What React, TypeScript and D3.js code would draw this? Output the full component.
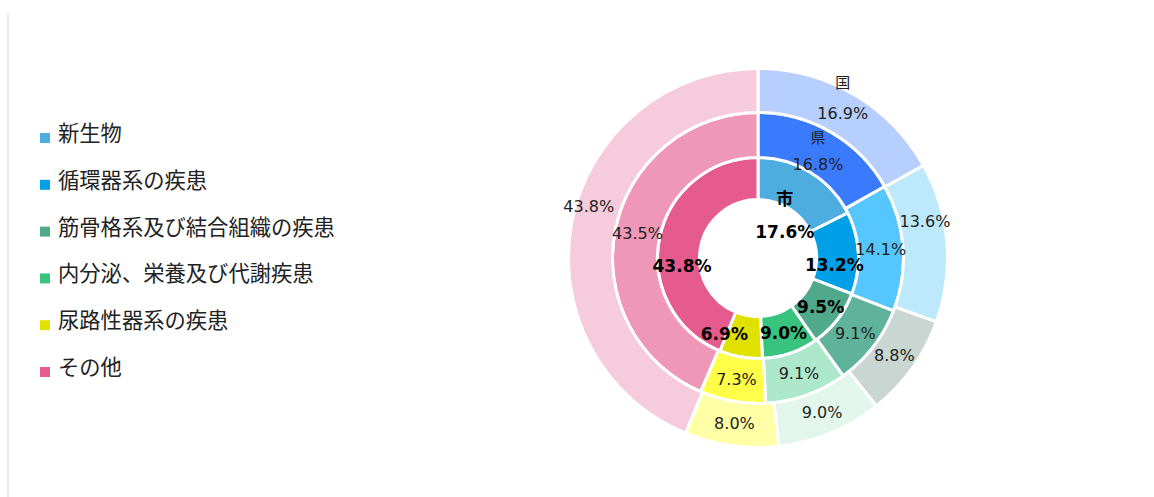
import React from "react";
import * as d3 from "d3";

const categories = ["新生物", "循環器系の疾患", "筋骨格系及び結合組織の疾患", "内分泌、栄養及び代謝疾患", "尿路性器系の疾患", "その他"];
const ringNames = ["市", "県", "国"];
const cityValues = [17.6, 13.2, 9.5, 9.0, 6.9, 43.8];
const prefValues = [16.8, 14.1, 9.1, 9.1, 7.3, 43.5];
const nationValues = [16.9, 13.6, 8.8, 9.0, 8.0, 43.8];

const cityColors = ["#4eaddf", "#00a0e9", "#4fa98a", "#38c47e", "#e1e100", "#e55b8e"];
const prefColors = ["#3a7bfd", "#55c6fe", "#5fb39a", "#aee8cc", "#ffff4a", "#ef97b7"];
const nationColors = ["#b7cfff", "#bde9fd", "#c9d6d1", "#e3f6ec", "#ffffa6", "#f6cbdc"];

// label nudges (layout only) to mimic overlap avoidance of the original
const nudges = [
  [[-15, 42], [-3, 11], [0, 0], [0, 0], [-20, -2], [2, 23]],
  [[-2, 13], [0, 0], [0, 0], [0, 0], [0, 0], [0, 0]],
  [[0, 0], [0, -23], [0, 0], [0, 0], [0, 0], [-5, -19]],
];
const nameGap = [35, 28, 32];

const W = 1154, H = 497;
const cx = 758, cy = 258;
const font = "'DejaVu Sans', 'Noto Sans CJK JP', sans-serif";

export default function App() {
  const rings = [
    { values: cityValues, colors: cityColors, r0: 58.5, r1: 100.5, bold: true },
    { values: prefValues, colors: prefColors, r0: 100.5, r1: 145.5, bold: false },
    { values: nationValues, colors: nationColors, r0: 145.5, r1: 189.5, bold: false },
  ];
  const pie = d3.pie<number>().sort(null).value((d) => d);

  return (
    <svg width={W} height={H} style={{ position: "absolute", left: 0, top: 0 }} fontFamily={font}>
      <rect x={7} y={13} width={2} height={H - 13} fill="#e8e8e8" />
      {categories.map((c, i) => {
        const y = 141 + i * 46.8;
        return (
          <g key={c}>
            <rect x={40} y={y - 8} width={10} height={10} fill={cityColors[i]} />
            <text x={58} y={y} fontSize={21.3} fill="#222" fontFamily="'Noto Sans CJK JP', sans-serif">{c}</text>
          </g>
        );
      })}
      <g transform={`translate(${cx},${cy})`}>
        {rings.map((ring, ri) => {
          const arcs = pie(ring.values);
          const arc = d3.arc<d3.PieArcDatum<number>>().innerRadius(ring.r0).outerRadius(ring.r1);
          return (
            <g key={ri}>
              {arcs.map((a, i) => (
                <path key={i} d={arc(a) || ""} fill={ring.colors[i]} stroke="#fff" strokeWidth={3} />
              ))}
            </g>
          );
        })}
        {rings.map((ring, ri) => {
          const arcs = pie(ring.values);
          const lr = (ring.r0 + ring.r1) / 2;
          const la = d3.arc<d3.PieArcDatum<number>>().innerRadius(lr).outerRadius(lr);
          return (
            <g key={"l" + ri}>
              {arcs.map((a, i) => {
                const [x0, y0] = la.centroid(a);
                const x = x0 + nudges[ri][i][0];
                const y = y0 + nudges[ri][i][1];
                return (
                  <g key={i}>
                    {i === 0 && (
                      <text x={x} y={y - nameGap[ri]} textAnchor="middle" dominantBaseline="central"
                        fontSize={ring.bold ? 17 : 15} fontWeight={ring.bold ? "bold" : "normal"}
                        fill={ring.bold ? "#000" : "#222"} fontFamily="'Noto Sans CJK JP', sans-serif">
                        {ringNames[ri]}
                      </text>
                    )}
                    <text x={x} y={y} textAnchor="middle" dominantBaseline="central"
                      fontSize={ring.bold ? 17 : 16} fontWeight={ring.bold ? "bold" : "normal"}
                      fill={ring.bold ? "#000" : "#222"}>
                      {a.data.toFixed(1)}%
                    </text>
                  </g>
                );
              })}
            </g>
          );
        })}
      </g>
    </svg>
  );
}
